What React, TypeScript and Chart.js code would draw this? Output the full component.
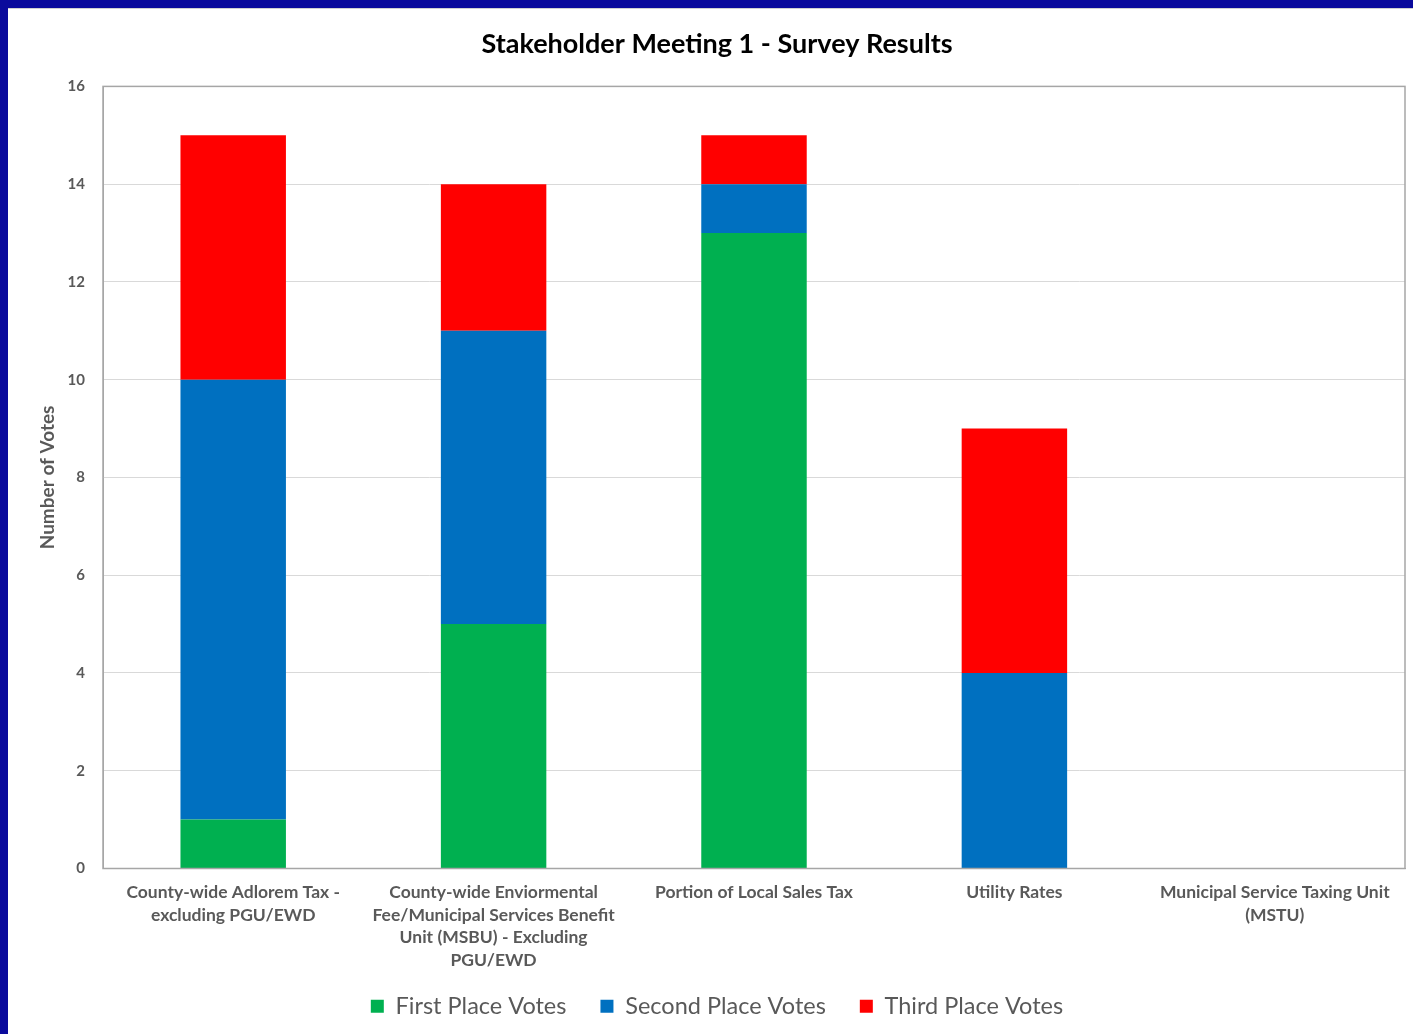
import React, { useEffect, useRef } from "react";
import { Chart, registerables } from "chart.js";

Chart.register(...registerables);

const categories: (string | string[])[] = [
  ["County-wide Adlorem Tax -", "excluding PGU/EWD"],
  ["County-wide Enviormental", "Fee/Municipal Services Benefit", "Unit (MSBU) - Excluding", "PGU/EWD"],
  "Portion of Local Sales Tax",
  "Utility Rates",
  ["Municipal Service Taxing Unit", "(MSTU)"],
];
const firstPlace = [1, 5, 13, 0, 0];
const secondPlace = [9, 6, 1, 4, 0];
const thirdPlace = [5, 3, 1, 5, 0];
const seriesNames = ["First Place Votes", "Second Place Votes", "Third Place Votes"];
const yMin = 0;
const yMax = 16;
const yStep = 2;

const FONT = "Lato, 'Open Sans', sans-serif";
const LEGEND_SHIFT = 26;

const framePlugin = {
  id: "frame",
  afterDraw(chart: any) {
    const { ctx, chartArea } = chart;
    ctx.save();
    ctx.strokeStyle = "#a6a6a6";
    ctx.lineWidth = 1.5;
    ctx.strokeRect(chartArea.left, chartArea.top, chartArea.right - chartArea.left, chartArea.bottom - chartArea.top);
    ctx.restore();
  },
};

// lets the legend's top padding overlap the x-axis label area
const legendOverlap = {
  id: "legendOverlap",
  beforeUpdate(chart: any) {
    const lg = chart.legend;
    if (lg && !lg.__patched) {
      lg.__patched = true;
      const orig = lg.fit.bind(lg);
      lg.fit = () => {
        orig();
        lg.height -= LEGEND_SHIFT;
      };
    }
  },
  afterLayout(chart: any) {
    const lg = chart.legend;
    if (lg) {
      lg.top -= LEGEND_SHIFT;
      lg.height += LEGEND_SHIFT;
    }
  },
};

export default function App() {
  const ref = useRef<HTMLCanvasElement>(null);
  useEffect(() => {
    document.body.style.margin = "0";
    const chart = new Chart(ref.current!, {
      type: "bar",
      data: {
        labels: categories,
        datasets: [
          { label: seriesNames[0], data: firstPlace, backgroundColor: "#00B050" },
          { label: seriesNames[1], data: secondPlace, backgroundColor: "#0070C0" },
          { label: seriesNames[2], data: thirdPlace, backgroundColor: "#FF0000" },
        ],
      },
      options: {
        animation: false,
        responsive: false,
        maintainAspectRatio: false,
        layout: { padding: { left: 21, right: 8, top: 0, bottom: 6 } },
        datasets: { bar: { barPercentage: 0.405, categoryPercentage: 1 } },
        scales: {
          x: {
            stacked: true,
            grid: { display: false },
            border: { color: "#a6a6a6" },
            ticks: {
              color: "#595959",
              font: { family: FONT, size: 17.5, weight: "bold" as any, lineHeight: 1.31 },
              maxRotation: 0,
              autoSkip: false,
              padding: 4,
            },
            afterFit(scale: any) {
              scale.height = 92 + LEGEND_SHIFT;
            },
          },
          y: {
            stacked: true,
            min: yMin,
            max: yMax,
            ticks: {
              stepSize: yStep,
              color: "#595959",
              font: { family: FONT, size: 15, weight: "bold" as any },
              padding: 18,
            },
            grid: { color: "#d9d9d9", drawTicks: false },
            border: { color: "#a6a6a6" },
            title: {
              display: true,
              text: "Number of Votes",
              color: "#595959",
              font: { family: FONT, size: 19, weight: "bold" as any },
              padding: { top: 7, bottom: 0 },
            },
            afterFit(scale: any) {
              scale.width = 74;
            },
          },
        },
        plugins: {
          title: {
            display: true,
            text: "Stakeholder Meeting 1 - Survey Results",
            color: "#000000",
            font: { family: FONT, size: 27, weight: "bold" as any },
            padding: { top: 19, bottom: 26 },
          },
          legend: {
            position: "bottom",
            labels: {
              color: "#595959",
              font: { family: FONT, size: 23.5 },
              boxWidth: 13,
              boxHeight: 13,
              padding: 34,
            },
          },
          tooltip: { enabled: false },
        },
      },
      plugins: [framePlugin, legendOverlap],
    });
    return () => chart.destroy();
  }, []);
  return (
    <div style={{ position: "absolute", left: 0, top: 0, width: 1413, height: 1034, background: "#0a0a9c", overflow: "hidden" }}>
      <div style={{ position: "absolute", left: 8, top: 8, width: 1405, height: 1026, background: "#ffffff", borderTop: "1px solid #d0d0d0", boxSizing: "border-box" }}>
        <canvas ref={ref} width={1405} height={1025} style={{ display: "block" }} />
      </div>
    </div>
  );
}
